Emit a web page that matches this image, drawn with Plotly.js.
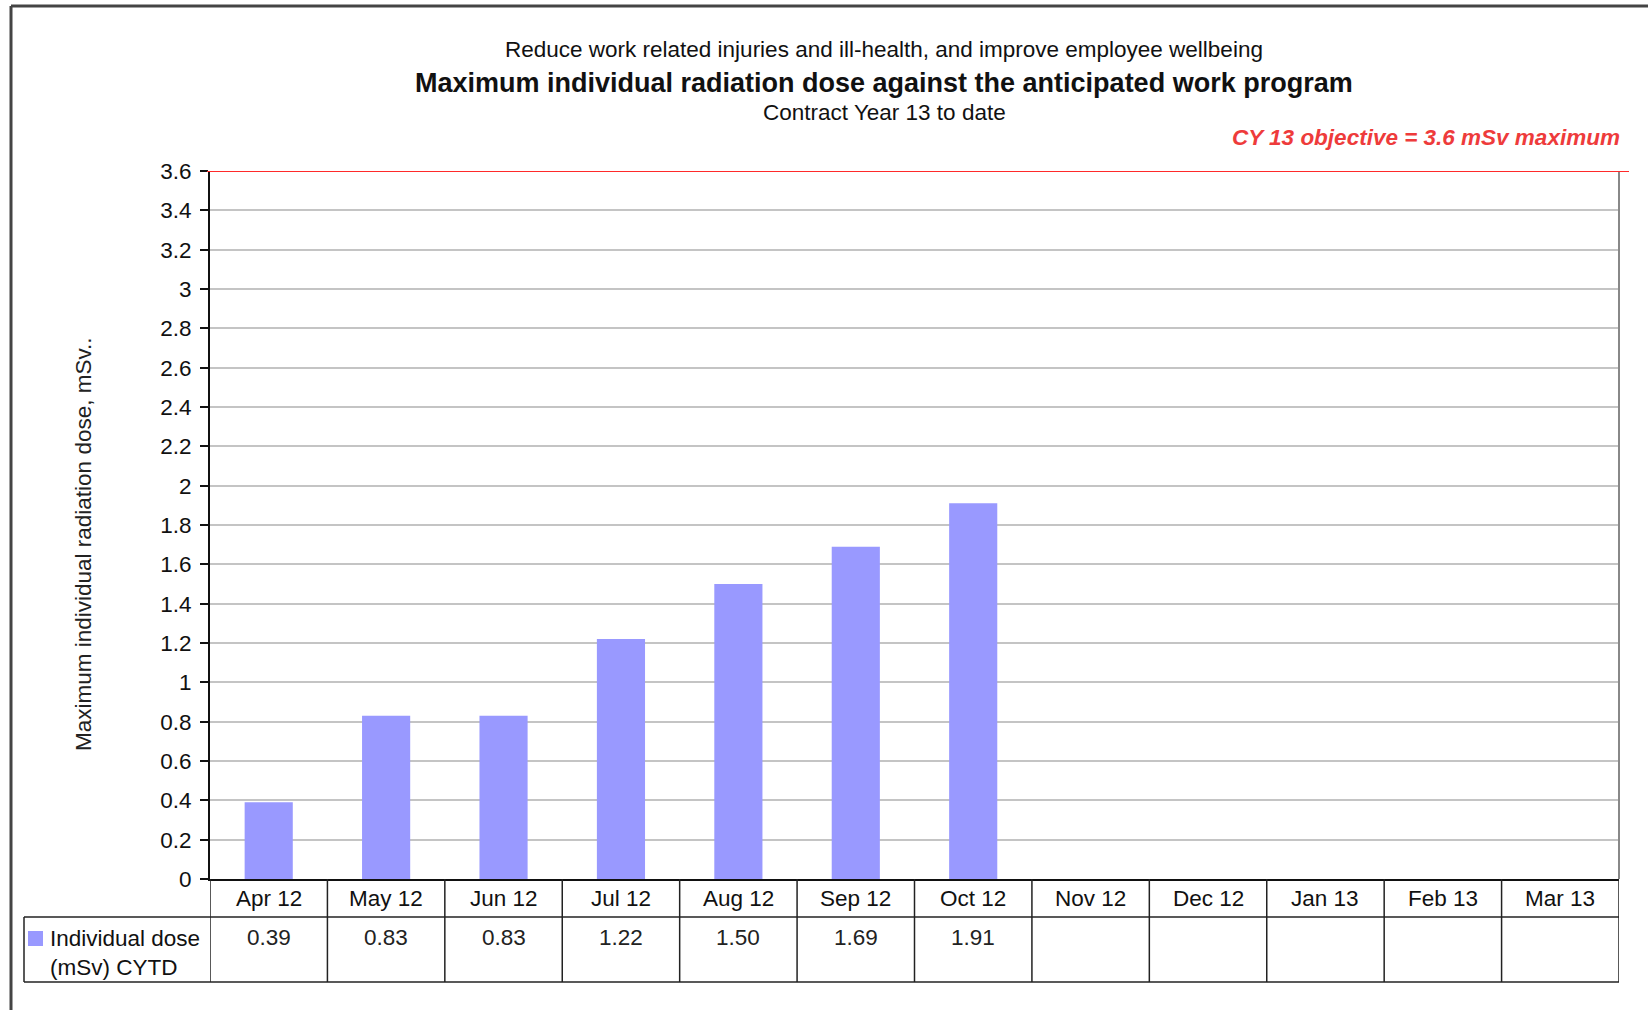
<!DOCTYPE html>
<html>
<head>
<meta charset="utf-8">
<script src="https://cdn.plot.ly/plotly-3.0.1.min.js"></script>
<style>html,body{margin:0;padding:0;background:#fff;}#chart{width:1648px;height:1010px;}</style>
</head>
<body>
<div id="chart"></div>
<script>
// ---- data ----
const categories = ["Apr 12","May 12","Jun 12","Jul 12","Aug 12","Sep 12","Oct 12","Nov 12","Dec 12","Jan 13","Feb 13","Mar 13"];
const doseValues = [0.39, 0.83, 0.83, 1.22, 1.50, 1.69, 1.91, null, null, null, null, null];
const seriesName = "Individual dose<br>(mSv) CYTD";
const objectiveValue = 3.6;
const yTickValues = [0,0.2,0.4,0.6,0.8,1,1.2,1.4,1.6,1.8,2,2.2,2.4,2.6,2.8,3,3.2,3.4,3.6];

// ---- geometry helpers (pixel -> paper) ----
const W = 1648, H = 1010;
const L = 210, R = 1619, T = 171, B = 879;
const px = x => (x - L) / (R - L);
const py = y => (B - y) / (B - T);

const font = "Liberation Sans, Arial, sans-serif";
const barColor = "#9999ff";
const fs = 22.5;

const shapes = [];
const annotations = [];

// outer frame
shapes.push({type:"line", xref:"paper", yref:"paper", x0:px(11), x1:px(11), y0:py(6), y1:py(1040), line:{color:"#444", width:3}});
shapes.push({type:"line", xref:"paper", yref:"paper", x0:px(11), x1:px(1660), y0:py(6), y1:py(6), line:{color:"#444", width:3}});

// plot area right border (grey)
shapes.push({type:"line", xref:"paper", yref:"paper", x0:1, x1:1, y0:0, y1:1, line:{color:"#888", width:2}});

// objective line
shapes.push({type:"line", xref:"paper", yref:"y", x0:px(207), x1:px(1629), y0:objectiveValue, y1:objectiveValue, line:{color:"#ff2a2a", width:2}});

// data table grid
const rowTop = py(879), rowMid = py(917), rowBot = py(982);
for (let i = 0; i <= categories.length; i++) {
  shapes.push({type:"line", xref:"x", yref:"paper", x0:i-0.5, x1:i-0.5, y0:rowTop, y1:rowBot, line:{color:"#222", width:1.5}});
}
shapes.push({type:"line", xref:"paper", yref:"paper", x0:px(24), x1:px(24), y0:rowMid, y1:rowBot, line:{color:"#222", width:1.5}});
shapes.push({type:"line", xref:"paper", yref:"paper", x0:px(24), x1:1, y0:rowMid, y1:rowMid, line:{color:"#222", width:1.5}});
shapes.push({type:"line", xref:"paper", yref:"paper", x0:px(24), x1:1, y0:rowBot, y1:rowBot, line:{color:"#222", width:1.5}});

// legend key square
shapes.push({type:"rect", xref:"paper", yref:"paper", x0:px(28), x1:px(43), y0:py(946), y1:py(931), fillcolor:barColor, line:{width:0}});

// legend text
annotations.push({xref:"paper", yref:"paper", x:px(48), y:py(953), xanchor:"left", yanchor:"middle", align:"left",
  text:seriesName, showarrow:false, font:{family:font, size:fs, color:"#111"}});

// category labels
categories.forEach((c, i) => {
  annotations.push({xref:"x", yref:"paper", x:i, y:py(898), xanchor:"center", yanchor:"middle",
    text:c, showarrow:false, font:{family:font, size:fs, color:"#111"}});
});
// values in the table
doseValues.forEach((v, i) => {
  if (v === null) return;
  annotations.push({xref:"x", yref:"paper", x:i, y:py(937), xanchor:"center", yanchor:"middle",
    text:v.toFixed(2), showarrow:false, font:{family:font, size:fs, color:"#222"}});
});

// titles
annotations.push({xref:"paper", yref:"paper", x:px(884), y:py(49), xanchor:"center", yanchor:"middle",
  text:"Reduce work related injuries and ill-health, and improve employee wellbeing", showarrow:false,
  font:{family:font, size:fs, color:"#111"}});
annotations.push({xref:"paper", yref:"paper", x:px(884), y:py(83), xanchor:"center", yanchor:"middle",
  text:"<b>Maximum individual radiation dose against the anticipated work program</b>", showarrow:false,
  font:{family:font, size:27, color:"#111"}});
annotations.push({xref:"paper", yref:"paper", x:px(884), y:py(113), xanchor:"center", yanchor:"middle",
  text:"Contract Year 13 to date", showarrow:false, font:{family:font, size:fs, color:"#111"}});
annotations.push({xref:"paper", yref:"paper", x:px(1622), y:py(138), xanchor:"right", yanchor:"middle",
  text:"<b><i>CY 13 objective = " + objectiveValue + " mSv maximum</i></b>", showarrow:false,
  font:{family:font, size:fs, color:"#ee3b3b"}});

// y-axis title
annotations.push({xref:"paper", yref:"paper", x:px(83), y:py(544), xanchor:"center", yanchor:"middle", textangle:-90,
  text:"Maximum individual radiation dose, mSv..", showarrow:false, font:{family:font, size:fs, color:"#222"}});

const trace = {
  type:"bar", x:categories, y:doseValues, name:"Individual dose (mSv) CYTD",
  marker:{color:barColor, line:{width:0}}, width:0.41, hoverinfo:"x+y"
};

const layout = {
  width:W, height:H,
  margin:{l:L, r:W-R, t:T, b:H-B, pad:0},
  paper_bgcolor:"#fff", plot_bgcolor:"#fff",
  showlegend:false,
  font:{family:font, size:fs, color:"#111"},
  xaxis:{type:"category", range:[-0.5, categories.length-0.5], showticklabels:false, ticks:"",
    showline:true, linecolor:"#111", linewidth:2, showgrid:false, zeroline:false, fixedrange:true},
  yaxis:{range:[0, objectiveValue], tickvals:yTickValues, ticks:"outside", ticklen:8, tickwidth:2, tickcolor:"#111",
    showline:true, linecolor:"#111", linewidth:2, gridcolor:"#c4c4c4", gridwidth:2, zeroline:false,
    tickfont:{family:font, size:fs, color:"#111"}, ticklabelstandoff:4, fixedrange:true},
  shapes:shapes, annotations:annotations
};

Plotly.newPlot("chart", [trace], layout, {displayModeBar:false, staticPlot:true});
</script>
</body>
</html>
